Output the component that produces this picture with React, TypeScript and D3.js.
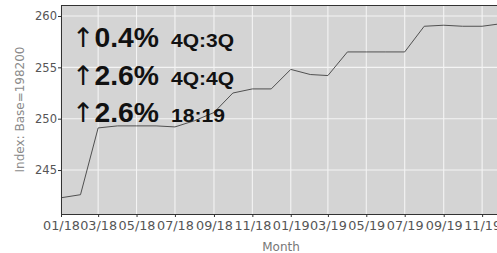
import React, { useEffect, useRef } from "react";
import * as d3 from "d3";

const months = [
  "2018-01", "2018-02", "2018-03", "2018-04", "2018-05", "2018-06",
  "2018-07", "2018-08", "2018-09", "2018-10", "2018-11", "2018-12",
  "2019-01", "2019-02", "2019-03", "2019-04", "2019-05", "2019-06",
  "2019-07", "2019-08", "2019-09", "2019-10", "2019-11", "2019-12",
];
const values = [
  242.3, 242.6, 249.1, 249.3, 249.3, 249.3,
  249.2, 249.8, 250.6, 252.5, 252.9, 252.9,
  254.8, 254.3, 254.2, 256.5, 256.5, 256.5,
  256.5, 259.0, 259.1, 259.0, 259.0, 259.25,
];
const yTicks = [245, 250, 255, 260];
const changeLabels = ["0.4%", "2.6%", "2.6%"];
const periodLabels = ["4Q:3Q", "4Q:4Q", "18:19"];

const W = 497;
const H = 253;

const App = () => {
  const svgRef = useRef<SVGSVGElement>(null);

  useEffect(() => {
    const left = 61;
    const right = 501;
    const top = 5;
    const bottom = 214;
    const parse = d3.timeParse("%Y-%m");
    const dates = months.map((m) => parse(m) as Date);

    const svg = d3.select(svgRef.current);
    svg.selectAll("*").remove();

    const x = d3
      .scaleTime()
      .domain([dates[0], dates[dates.length - 1]])
      .range([left, right]);
    const y = d3.scaleLinear().domain([240.72, 261.07]).range([bottom, top]);

    svg
      .append("rect")
      .attr("x", left)
      .attr("y", top)
      .attr("width", right - left)
      .attr("height", bottom - top)
      .attr("fill", "#d4d4d4");

    const xTicks = x.ticks(d3.timeMonth.every(2) as d3.TimeInterval);

    // grid
    svg
      .append("g")
      .selectAll("line")
      .data(xTicks)
      .join("line")
      .attr("x1", (d) => x(d))
      .attr("x2", (d) => x(d))
      .attr("y1", top)
      .attr("y2", bottom)
      .attr("stroke", "#f4f4f4")
      .attr("stroke-width", 1.1);
    svg
      .append("g")
      .selectAll("line")
      .data(yTicks)
      .join("line")
      .attr("x1", left)
      .attr("x2", right)
      .attr("y1", (d) => y(d))
      .attr("y2", (d) => y(d))
      .attr("stroke", "#f4f4f4")
      .attr("stroke-width", 1.1);

    // series
    const line = d3
      .line<number>()
      .x((d, i) => x(dates[i]))
      .y((d) => y(d));
    svg
      .append("path")
      .datum(values)
      .attr("d", line)
      .attr("fill", "none")
      .attr("stroke", "#505050")
      .attr("stroke-width", 1);

    // annotations
    const ann = svg.append("g").attr("fill", "#111");
    changeLabels.forEach((t, i) => {
      const by = top + 42 + i * 37.5;
      const txt = ann
        .append("text")
        .attr("x", left + 11)
        .attr("y", by)
        .attr("textLength", 87)
        .attr("lengthAdjust", "spacingAndGlyphs");
      txt
        .append("tspan")
        .attr("font-family", "'DejaVu Sans', sans-serif")
        .attr("font-size", 27)
        .text("\u2191");
      txt
        .append("tspan")
        .attr("font-family", "'Liberation Sans', Arial, sans-serif")
        .attr("font-weight", "bold")
        .attr("font-size", 28.5)
        .text(t);
      ann
        .append("text")
        .attr("x", left + 110)
        .attr("y", by)
        .attr("font-family", "'Liberation Sans', Arial, sans-serif")
        .attr("font-weight", "bold")
        .attr("font-size", 18)
        .attr("textLength", periodLabels[i] === "18:19" ? 54 : 63)
        .attr("lengthAdjust", "spacingAndGlyphs")
        .text(periodLabels[i]);
    });

    // axes
    const xAxis = d3
      .axisBottom(x)
      .tickValues(xTicks)
      .tickFormat(d3.timeFormat("%m/%y") as any)
      .tickSize(3)
      .tickSizeOuter(0);
    const gx = svg.append("g").attr("transform", `translate(0,${bottom})`).call(xAxis);
    gx.select(".domain").attr("stroke", "#333").attr("d", `M${left},0.5H${right}`);
    gx.selectAll(".tick line").attr("stroke", "#333");
    gx.selectAll(".tick text")
      .attr("fill", "#555")
      .attr("font-family", "'DejaVu Sans', sans-serif")
      .attr("font-size", 12.8)
      .attr("dy", "0.71em")
      .attr("y", 7);

    const yAxis = d3.axisLeft(y).tickValues(yTicks).tickSize(3).tickSizeOuter(0);
    const gy = svg.append("g").attr("transform", `translate(${left},0)`).call(yAxis);
    gy.select(".domain").attr("stroke", "#333").attr("d", `M0.5,${top}V${bottom}`);
    gy.selectAll(".tick line").attr("stroke", "#333");
    gy.selectAll(".tick text")
      .attr("fill", "#555")
      .attr("font-family", "'DejaVu Sans', sans-serif")
      .attr("font-size", 11.5)
      .attr("x", -4);

    // top border
    svg
      .append("line")
      .attr("x1", left)
      .attr("x2", right)
      .attr("y1", top + 0.5)
      .attr("y2", top + 0.5)
      .attr("stroke", "#333");

    // titles
    svg
      .append("text")
      .attr("x", (left + right) / 2)
      .attr("y", 251)
      .attr("text-anchor", "middle")
      .attr("fill", "#777")
      .attr("font-family", "'DejaVu Sans', sans-serif")
      .attr("font-size", 12)
      .text("Month");
    svg
      .append("text")
      .attr("transform", `translate(24,${(top + bottom) / 2}) rotate(-90)`)
      .attr("text-anchor", "middle")
      .attr("fill", "#8a8a8a")
      .attr("font-family", "'DejaVu Sans', sans-serif")
      .attr("font-size", 12)
      .text("Index: Base=198200");
  }, []);

  return (
    <div style={{ position: "absolute", left: 0, top: 0 }}>
      <svg ref={svgRef} width={W} height={H} style={{ display: "block", background: "#fff" }}></svg>
    </div>
  );
};

export default App;
